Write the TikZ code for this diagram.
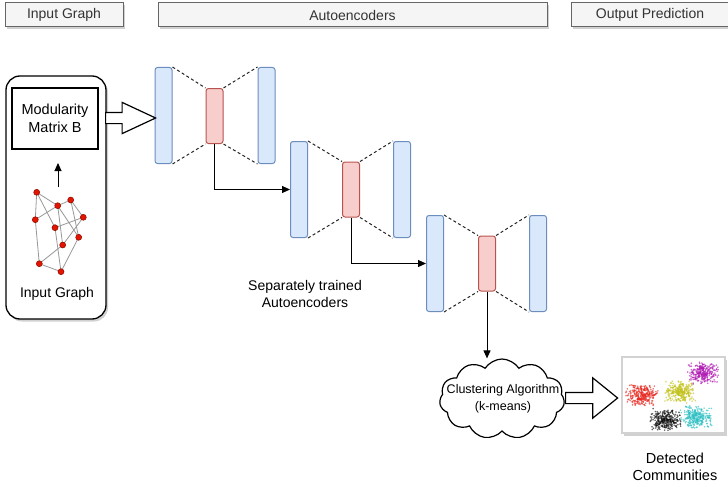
\documentclass[tikz,border=0pt]{standalone}
\usepackage{fontspec}
\setmainfont{Liberation Sans}
\usetikzlibrary{shapes.symbols,shapes.arrows,shadows,arrows.meta}

\definecolor{aeblue}{HTML}{DAE8FC}
\definecolor{aeblueline}{HTML}{6C8EBF}
\definecolor{aered}{HTML}{F8CECC}
\definecolor{aeredline}{HTML}{B85450}
\definecolor{hdrfill}{HTML}{F5F5F5}
\definecolor{hdrline}{HTML}{666666}
\definecolor{hdrtext}{HTML}{333333}
\definecolor{ptred}{HTML}{E8261E}
\definecolor{ptyellow}{HTML}{C3C21B}
\definecolor{ptpurple}{HTML}{B11BB3}
\definecolor{ptblack}{HTML}{111111}
\definecolor{ptcyan}{HTML}{2BC0C4}
\definecolor{vtxred}{HTML}{E51400}

\begin{document}
\begin{tikzpicture}[x=1pt,y=-1pt,
  shade/.style={drop shadow={shadow xshift=2pt,shadow yshift=-2.5pt,fill=black,opacity=0.18}},
  barshade/.style={preaction={draw=none,fill=black!22,xshift=2pt,yshift=-2.5pt}},
  header/.style={draw=hdrline,line width=1pt,fill=hdrfill,text=hdrtext,shade,minimum height=24pt,inner sep=0,
    font=\fontsize{14}{16}\selectfont},
  encbar/.style={draw=aeblueline,line width=1pt,fill=aeblue,rounded corners=2.5pt,minimum width=17pt,
    minimum height=96pt,inner sep=0,barshade},
  codebar/.style={draw=aeredline,line width=1pt,fill=aered,rounded corners=2.5pt,minimum width=17pt,
    minimum height=55pt,inner sep=0,barshade},
  link/.style={dash pattern=on 3pt off 2.5pt,line width=1pt,black!85},
  flow/.style={-{Triangle[length=8pt,width=7pt]},line width=1pt},
  vertex/.style={circle,fill=vtxred,draw=vtxred!60!black,line width=0.5pt,inner sep=0,minimum size=6pt},
  gedge/.style={gray!80,line width=0.8pt},
  hollow/.style={single arrow,draw,line width=1.2pt,fill=white,inner xsep=0,inner ysep=5pt,
    single arrow head indent=0pt},
  txt/.style={font=\fontsize{14}{17}\selectfont,align=center,inner sep=0}
]
\useasboundingbox (0,0) rectangle (728,487);

% column headers
\node[header,minimum width=118pt] (hin) at (64,15) {Input Graph};
\node[header,minimum width=389pt] (hae) at (352.5,15) {Autoencoders};
\node[header,minimum width=158pt] (hout) at (650,15) {Output Prediction};

% input panel
\node[draw,rounded corners=14pt,line width=1.3pt,fill=white,shade,
  minimum width=100pt,minimum height=243pt,inner sep=0] (inbox) at (56,197.5) {};
\node[draw,line width=1.3pt,minimum width=86pt,minimum height=61pt,inner sep=0,
  font=\fontsize{14.5}{18}\selectfont,align=center] (mod) at (55,118.5) {Modularity\\Matrix B};
\coordinate (gtop) at (58,187);
\coordinate (gup) at (58,163);
\draw[flow] (gtop) -- (gup);
\node[txt] (inlbl) at (57,294) {Input Graph};

% small example graph: edges first, vertices on top
\foreach \name/\px/\py in {n1/36.7/192.3,n2/57.7/205.7,n3/70.7/200,n4/35.3/219.7,n5/83.3/217.3,
  n6/55/227.7,n7/78.7/237.3,n8/62.7/245,n9/39.3/263.7,n10/61/271.7}
  \coordinate (\name) at (\px,\py);
\foreach \a/\b in {n1/n2,n1/n4,n1/n6,n2/n3,n2/n4,n2/n8,n2/n7,n3/n5,n3/n7,n5/n6,n5/n8,n4/n9,n8/n9,n9/n10,n7/n10,n6/n10}
  \draw[gedge] (\a) -- (\b);
\foreach \name in {n1,n2,n3,n4,n5,n6,n7,n8,n9,n10}
  \node[vertex] (v\name) at (\name) {};

% stacked autoencoders
\node[encbar] (l1) at (163.5,115.5) {};
\node[codebar] (c1) at (214.5,116) {};
\node[encbar] (r1) at (266.5,115.5) {};
\node[encbar] (l2) at (299,189.5) {};
\node[codebar] (c2) at (351,189.5) {};
\node[encbar] (r2) at (402,189.5) {};
\node[encbar] (l3) at (435,263.5) {};
\node[codebar] (c3) at (487,263.5) {};
\node[encbar] (r3) at (538,263.5) {};
\foreach \k in {1,2,3} {
  \draw[link] (l\k.north east) -- (c\k.north west);
  \draw[link] (c\k.north east) -- (r\k.north west);
  \draw[link] (l\k.south east) -- (c\k.south west);
  \draw[link] (c\k.south east) -- (r\k.south west);
}
\draw[flow] (c1.south) |- (l2.west);
\draw[flow] (c2.south) |- (l3.west);

\node[hollow,minimum height=50pt,single arrow head extend=10pt,single arrow tip angle=50,
  anchor=tail] (toae) at (105,118) {};

\node[txt] (sep) at (305,293.5) {Separately trained\\Autoencoders};

% clustering step
\node[cloud,draw,line width=1.2pt,cloud puffs=11,cloud puff arc=115,aspect=1.5,
  minimum width=125pt,minimum height=80pt,inner sep=0,fill=white] (cl) at (502,399) {};
\node[font=\fontsize{12.5}{17}\selectfont,align=center,inner sep=0] (cltext) at (503,398.5)
  {Clustering Algorithm\\(k-means)};
\draw[flow] (c3.south) -- (c3.south |- cl.north);

\node[hollow,minimum height=52pt,single arrow head extend=14.5pt,single arrow tip angle=78,
  anchor=tail] (toout) at (565,398) {};

% detected communities
\node[draw=gray!35,line width=1.3pt,fill=white,shade,minimum width=103pt,minimum height=76pt,
  inner sep=0] (sc) at (673.5,395) {};
\pgfmathsetseed{42}
\foreach \cx/\cy/\col in {641.7/395/ptred,680/391.7/ptyellow,703/373/ptpurple,666.7/420/ptblack,696.7/416.7/ptcyan} {
  \foreach \k in {1,...,300} {
    \fill[\col,opacity=0.65] ({\cx+8.5*(rand+rand)},{\cy+5.8*(rand+rand)}) circle (0.9pt);
  }
}
\node[txt,font=\fontsize{14.5}{17}\selectfont] (det) at (675,466.5) {Detected\\Communities};
\end{tikzpicture}
\end{document}
